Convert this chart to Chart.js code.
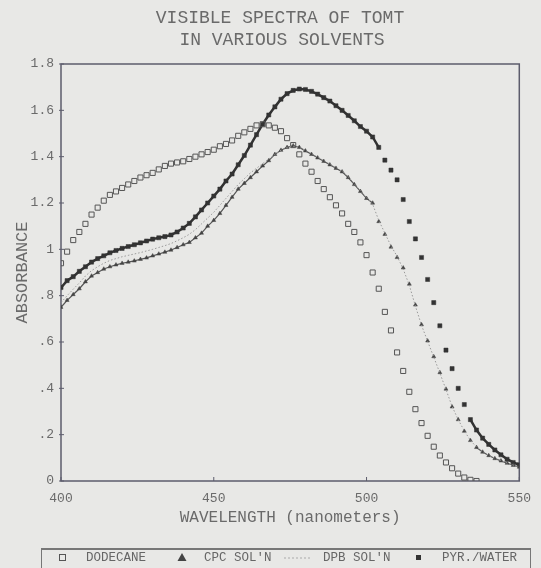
<!DOCTYPE html>
<html>
<head>
<meta charset="utf-8">
<script src="https://cdn.jsdelivr.net/npm/chart.js@4.4.0/dist/chart.umd.min.js"></script>
<style>
  html, body { margin: 0; padding: 0; background: #e8e8e6; }
  #wrap { width: 541px; height: 568px; }
</style>
</head>
<body>
<div id="wrap"><canvas id="spectra" width="541" height="568"></canvas></div>
<script>
// Wavelength (nm), read every 2 nm off the scan
const wavelengths = [
  400, 402, 404, 406, 408, 410, 412, 414, 416, 418,
  420, 422, 424, 426, 428, 430, 432, 434, 436, 438,
  440, 442, 444, 446, 448, 450, 452, 454, 456, 458,
  460, 462, 464, 466, 468, 470, 472, 474, 476, 478,
  480, 482, 484, 486, 488, 490, 492, 494, 496, 498,
  500, 502, 504, 506, 508, 510, 512, 514, 516, 518,
  520, 522, 524, 526, 528, 530, 532, 534, 536, 538,
  540, 542, 544, 546, 548, 550
];

const dodecane = [
  0.94, 0.99, 1.04, 1.075, 1.11, 1.15, 1.18, 1.21, 1.235, 1.25,
  1.265, 1.28, 1.295, 1.31, 1.32, 1.33, 1.345, 1.36, 1.37, 1.375,
  1.38, 1.39, 1.40, 1.41, 1.42, 1.43, 1.445, 1.455, 1.47, 1.49,
  1.505, 1.52, 1.535, 1.54, 1.535, 1.525, 1.51, 1.48, 1.45, 1.41,
  1.37, 1.335, 1.295, 1.26, 1.225, 1.19, 1.155, 1.11, 1.075, 1.03,
  0.975, 0.90, 0.83, 0.73, 0.65, 0.555, 0.475, 0.385, 0.31, 0.25,
  0.195, 0.148, 0.11, 0.08, 0.055, 0.032, 0.015, 0.005, 0.0, null,
  null, null, null, null, null, null
];

const cpcSoln = [
  0.75, 0.78, 0.805, 0.83, 0.86, 0.885, 0.90, 0.915, 0.925, 0.933,
  0.94, 0.945, 0.95, 0.957, 0.963, 0.972, 0.98, 0.988, 0.997, 1.008,
  1.02, 1.03, 1.05, 1.07, 1.10, 1.125, 1.155, 1.19, 1.225, 1.26,
  1.285, 1.31, 1.335, 1.36, 1.383, 1.41, 1.428, 1.44, 1.447, 1.44,
  1.425, 1.41, 1.395, 1.38, 1.365, 1.35, 1.335, 1.31, 1.28, 1.25,
  1.22, 1.20, 1.12, 1.065, 1.01, 0.965, 0.92, 0.85, 0.76, 0.675,
  0.605, 0.537, 0.468, 0.397, 0.32, 0.265, 0.215, 0.175, 0.145, 0.125,
  0.11, 0.097, 0.087, 0.077, 0.068, 0.06
];

const dpbSoln = [
  0.77, 0.80, 0.828, 0.855, 0.885, 0.908, 0.925, 0.94, 0.952, 0.96,
  0.968, 0.974, 0.98, 0.986, 0.993, 1.0, 1.008, 1.016, 1.025, 1.037,
  1.05, 1.065, 1.085, 1.11, 1.135, 1.16, 1.19, 1.22, 1.25, 1.28,
  1.305, 1.33, 1.35, 1.37, 1.39, 1.41, 1.428, 1.44, 1.445, 1.44,
  1.427, 1.413, 1.398, 1.383, 1.368, 1.352, 1.337, 1.313, 1.283, 1.253,
  1.223, 1.195, 1.125, 1.07, 1.015, 0.97, 0.915, 0.845, 0.755, 0.672,
  0.603, 0.535, 0.466, 0.395, 0.322, 0.265, 0.216, 0.176, 0.146, 0.126,
  0.111, 0.098, 0.088, 0.078, 0.069, 0.06
];

const pyrWater = [
  0.835, 0.865, 0.882, 0.905, 0.925, 0.945, 0.96, 0.972, 0.985, 0.995,
  1.004, 1.012, 1.02, 1.028, 1.036, 1.044, 1.05, 1.055, 1.062, 1.075,
  1.092, 1.112, 1.14, 1.17, 1.20, 1.23, 1.26, 1.295, 1.325, 1.365,
  1.405, 1.45, 1.495, 1.54, 1.58, 1.615, 1.648, 1.672, 1.686, 1.692,
  1.69, 1.682, 1.67, 1.655, 1.64, 1.62, 1.60, 1.578, 1.555, 1.53,
  1.51, 1.485, 1.44, 1.385, 1.342, 1.30, 1.215, 1.12, 1.045, 0.965,
  0.87, 0.77, 0.67, 0.565, 0.485, 0.40, 0.33, 0.265, 0.22, 0.185,
  0.158, 0.134, 0.113, 0.094, 0.08, 0.07
];

const xTicks = [400, 450, 500, 550];
const yTicks = [0, 0.2, 0.4, 0.6, 0.8, 1, 1.2, 1.4, 1.6, 1.8];
const yTickLabels = ['0', '.2', '.4', '.6', '.8', '1', '1.2', '1.4', '1.6', '1.8'];
const titleLines = ['VISIBLE SPECTRA OF TOMT', 'IN VARIOUS SOLVENTS'];
const xTitle = 'WAVELENGTH (nanometers)';
const yTitle = 'ABSORBANCE';
const legendLabels = ['DODECANE', "CPC SOL'N", "DPB SOL'N", 'PYR./WATER'];

const MONO = '"Liberation Mono", "DejaVu Sans Mono", monospace';
const INK = '#6a6a6a';

function pts(ys) {
    return wavelengths.map((x, i) => ({ x: x, y: ys[i] }));
}

// on the plotter the dense marks run together into a line where the
// curve is flat; on the steep drop (gapFrom..gapTo nm) they stand apart
function joinOutside(color, gapFrom, gapTo) {
    return ctx => {
        const w = wavelengths[ctx.p0DataIndex];
        return (w >= gapFrom && w < gapTo) ? 'rgba(0,0,0,0)' : color;
    };
}

// background, frame, inner ticks, titles and legend
const decorations = {
    id: 'decorations',
    beforeDraw(chart) {
        const ctx = chart.ctx;
        ctx.save();
        ctx.fillStyle = '#e8e8e6';
        ctx.fillRect(0, 0, chart.width, chart.height);
        ctx.restore();
    },
    beforeDatasetsDraw(chart) {
        const ctx = chart.ctx;
        const a = chart.chartArea;
        const xs = chart.scales.x;
        const ys = chart.scales.y;
        ctx.save();
        ctx.strokeStyle = '#5c5c6c';
        ctx.lineWidth = 1.5;
        ctx.strokeRect(a.left, a.top, a.right - a.left, a.bottom - a.top);
        ctx.lineWidth = 1;
        xTicks.forEach(v => {
            const px = xs.getPixelForValue(v);
            ctx.beginPath();
            ctx.moveTo(px, a.bottom);
            ctx.lineTo(px, a.bottom - 4);
            ctx.stroke();
        });
        yTicks.forEach(v => {
            const py = ys.getPixelForValue(v);
            ctx.beginPath();
            ctx.moveTo(a.left - 2, py);
            ctx.lineTo(a.left + 3, py);
            ctx.stroke();
        });
        ctx.restore();
    },
    afterDraw(chart) {
        const ctx = chart.ctx;
        const a = chart.chartArea;
        ctx.save();
        ctx.fillStyle = INK;
        ctx.textAlign = 'center';
        ctx.textBaseline = 'middle';

        ctx.font = '18px ' + MONO;
        ctx.fillText(titleLines[0], 280, 18);
        ctx.fillText(titleLines[1], 282, 40);

        ctx.font = '16px ' + MONO;
        ctx.fillText(xTitle, (a.left + a.right) / 2, 518);

        ctx.save();
        ctx.translate(22, (a.top + a.bottom) / 2);
        ctx.rotate(-Math.PI / 2);
        ctx.font = '17px ' + MONO;
        ctx.fillText(yTitle, 0, 0);
        ctx.restore();

        // legend box
        ctx.strokeStyle = '#777';
        ctx.lineWidth = 1;
        ctx.strokeRect(41.5, 548.5, 489, 30);
        ctx.lineWidth = 2;
        ctx.beginPath();
        ctx.moveTo(42, 549);
        ctx.lineTo(530, 549);
        ctx.stroke();

        const ly = 558;
        ctx.font = '12.5px ' + MONO;
        ctx.textAlign = 'left';
        ctx.fillStyle = '#666';
        const textX = [86, 204, 323, 442];
        legendLabels.forEach((t, i) => ctx.fillText(t, textX[i], ly));

        // symbols
        ctx.strokeStyle = '#555';
        ctx.lineWidth = 1;
        ctx.strokeRect(59.5, ly - 3.5, 6, 6);
        ctx.fillStyle = '#444';
        ctx.beginPath();
        ctx.moveTo(182, ly - 5);
        ctx.lineTo(186.5, ly + 3);
        ctx.lineTo(177.5, ly + 3);
        ctx.closePath();
        ctx.fill();
        ctx.strokeStyle = '#aaa';
        ctx.setLineDash([2, 2]);
        ctx.beginPath();
        ctx.moveTo(284, ly);
        ctx.lineTo(312, ly);
        ctx.stroke();
        ctx.setLineDash([]);
        ctx.fillStyle = '#333';
        ctx.fillRect(416, ly - 3, 5, 5);
        ctx.restore();
    }
};

new Chart(document.getElementById('spectra'), {
    type: 'scatter',
    data: {
        datasets: [
            {
                label: legendLabels[2],
                data: pts(dpbSoln),
                showLine: true,
                borderColor: '#9a9a9a',
                borderWidth: 1,
                borderDash: [1.5, 2],
                pointRadius: 0
            },
            {
                label: legendLabels[1],
                data: pts(cpcSoln),
                showLine: true,
                borderWidth: 1.2,
                segment: { borderColor: joinOutside('#555', 502, 536) },
                pointStyle: 'triangle',
                pointRadius: 2.3,
                backgroundColor: '#444',
                borderColor: '#444',
                pointBorderWidth: 0.5
            },
            {
                label: legendLabels[0],
                data: pts(dodecane),
                pointStyle: 'rect',
                pointRadius: 3.6,
                backgroundColor: 'rgba(0,0,0,0)',
                borderColor: '#555',
                borderWidth: 1
            },
            {
                label: legendLabels[3],
                data: pts(pyrWater),
                showLine: true,
                borderWidth: 2.5,
                segment: { borderColor: joinOutside('#333', 504, 534) },
                pointStyle: 'rect',
                pointRadius: 2.9,
                backgroundColor: '#333',
                borderColor: '#333',
                pointBorderWidth: 0.5
            }
        ]
    },
    options: {
        responsive: false,
        animation: false,
        layout: { padding: { left: 0, top: 64, right: 14, bottom: 0 } },
        plugins: {
            legend: { display: false },
            tooltip: { enabled: false }
        },
        scales: {
            x: {
                type: 'linear',
                min: 400,
                max: 550,
                grid: { display: false, drawTicks: false },
                border: { display: false },
                afterBuildTicks: scale => {
                    scale.ticks = xTicks.map(v => ({ value: v }));
                },
                afterFit: scale => { scale.height = 87; },
                ticks: {
                    color: INK,
                    font: { family: MONO, size: 13 },
                    padding: 10,
                    maxRotation: 0
                }
            },
            y: {
                min: 0,
                max: 1.8,
                grid: { display: false, drawTicks: false },
                border: { display: false },
                afterBuildTicks: scale => {
                    scale.ticks = yTicks.map(v => ({ value: v }));
                },
                afterFit: scale => { scale.width = 61; },
                ticks: {
                    color: INK,
                    font: { family: MONO, size: 13 },
                    padding: 7,
                    callback: function(value) {
                        const i = yTicks.findIndex(t => Math.abs(t - value) < 1e-6);
                        return i >= 0 ? yTickLabels[i] : '';
                    }
                }
            }
        }
    },
    plugins: [decorations]
});
</script>
</body>
</html>
